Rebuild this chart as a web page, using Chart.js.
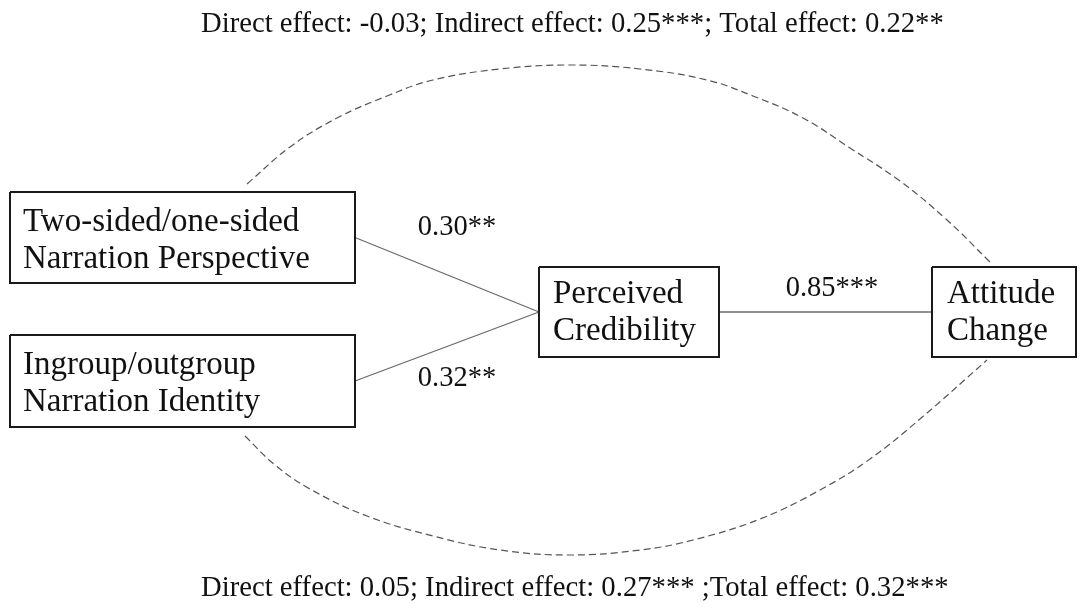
<!DOCTYPE html>
<html>
<head>
<meta charset="utf-8">
<script src="https://cdn.jsdelivr.net/npm/chart.js@4/dist/chart.umd.min.js"></script>
<style>
  html, body { margin: 0; padding: 0; background: #ffffff; }
  #wrap { width: 1081px; height: 610px; }
</style>
</head>
<body>
<div id="wrap"><canvas id="c" width="1081" height="610"></canvas></div>
<script>
// ---- model content ----
const nodeNames = [
  ['Two-sided/one-sided', 'Narration Perspective'],
  ['Ingroup/outgroup', 'Narration Identity'],
  ['Perceived', 'Credibility'],
  ['Attitude', 'Change']
];
const pathValues = [0.30, 0.32, 0.85];
const pathStars = ['**', '**', '***'];
const effectKinds = ['Direct effect', 'Indirect effect', 'Total effect'];
const topEffects = [-0.03, 0.25, 0.22];
const topStars = ['', '***', '**'];
const topSeparators = ['; ', '; '];
const bottomEffects = [0.05, 0.27, 0.32];
const bottomStars = ['', '***', '***'];
const bottomSeparators = ['; ', ' ;'];

// ---- diagram layout (in the 1081 x 610 drawing space) ----
const boxes = [
  [10, 192, 355, 283],
  [10, 335, 355, 427],
  [539, 267, 719, 357],
  [932, 267, 1076, 357]
];
const nodeTextAnchors = [[23, 231], [23, 374], [553, 303], [947, 303]];
const lineStep = 36.5;
const pathLinks = [[0, 2], [1, 2], [2, 3]];
const pathLabelAnchors = [[457, 235], [457, 386], [832, 296]];
const upperArc = [[247, 184], [290, 147], [337, 118], [387, 96], [433, 80], [500, 69], [570, 65],
  [640, 69], [707, 80], [753, 96], [803, 118], [850, 148], [900, 181], [947, 220], [990, 262]];
const lowerArc = [[245, 436], [275, 465], [310, 489], [367, 516], [433, 536], [500, 550], [570, 555],
  [640, 550], [693, 540], [760, 519], [820, 490], [870, 459], [920, 419], [987, 360]];

function effectLine(values, stars, seps) {
  let s = '';
  effectKinds.forEach((k, i) => {
    s += k + ': ' + values[i].toFixed(2) + stars[i];
    if (i < seps.length) s += seps[i];
  });
  return s;
}
const titleRows = [
  { text: effectLine(topEffects, topStars, topSeparators), x: 201, y: 32 },
  { text: effectLine(bottomEffects, bottomStars, bottomSeparators), x: 201, y: 596 }
];

const pt = p => ({ x: p[0], y: p[1] });
function boxPoints(b) {
  return [[b[0], b[1]], [b[2], b[1]], [b[2], b[3]], [b[0], b[3]], [b[0], b[1]]].map(pt);
}
function rightMid(b) { return [b[2], (b[1] + b[3]) / 2]; }
function leftMid(b) { return [b[0], (b[1] + b[3]) / 2]; }

const datasets = [];
// node boxes
boxes.forEach(b => datasets.push({
  data: boxPoints(b), borderColor: '#1a1a1a', borderWidth: 2, pointRadius: 0,
  tension: 0, fill: false, showLine: true, borderJoinStyle: 'miter', clip: false
}));
// solid paths between nodes
pathLinks.forEach(l => datasets.push({
  data: [pt(rightMid(boxes[l[0]])), pt(leftMid(boxes[l[1]]))],
  borderColor: '#6a6a6a', borderWidth: 1.3, pointRadius: 0, tension: 0, showLine: true, clip: false
}));
// dashed envelopes for the direct effects
[upperArc, lowerArc].forEach(a => datasets.push({
  data: a.map(pt), borderColor: '#555555', borderWidth: 1.2, borderDash: [7, 4],
  pointRadius: 0, tension: 0.4, showLine: true, clip: false
}));

const whiteBg = {
  id: 'whiteBg',
  beforeDraw(chart) {
    const c = chart.ctx;
    c.save(); c.fillStyle = '#ffffff'; c.fillRect(0, 0, chart.width, chart.height); c.restore();
  }
};

const labelsPlugin = {
  id: 'diagramText',
  afterDatasetsDraw(chart) {
    const c = chart.ctx, sx = chart.scales.x, sy = chart.scales.y;
    c.save();
    c.fillStyle = '#111111';
    c.textBaseline = 'alphabetic';
    // node names
    c.font = '33px "Liberation Serif", "Times New Roman", serif';
    c.textAlign = 'left';
    nodeNames.forEach((lines, i) => {
      const a = nodeTextAnchors[i];
      lines.forEach((t, j) => c.fillText(t, sx.getPixelForValue(a[0]), sy.getPixelForValue(a[1] + j * lineStep)));
    });
    // path coefficients
    c.font = '28.5px "Liberation Serif", "Times New Roman", serif';
    c.textAlign = 'center';
    pathValues.forEach((v, i) => {
      const a = pathLabelAnchors[i];
      c.fillText(v.toFixed(2) + pathStars[i], sx.getPixelForValue(a[0]), sy.getPixelForValue(a[1]));
    });
    // effect summaries
    c.font = '28.7px "Liberation Serif", "Times New Roman", serif';
    c.textAlign = 'left';
    titleRows.forEach(r => c.fillText(r.text, sx.getPixelForValue(r.x), sy.getPixelForValue(r.y)));
    c.restore();
  }
};

new Chart(document.getElementById('c'), {
  type: 'scatter',
  data: { datasets },
  options: {
    responsive: false,
    animation: false,
    layout: { padding: 0 },
    scales: {
      x: { type: 'linear', min: 0, max: 1081, display: false },
      y: { type: 'linear', min: 0, max: 610, reverse: true, display: false }
    },
    plugins: { legend: { display: false }, tooltip: { enabled: false } }
  },
  plugins: [whiteBg, labelsPlugin]
});
</script>
</body>
</html>
